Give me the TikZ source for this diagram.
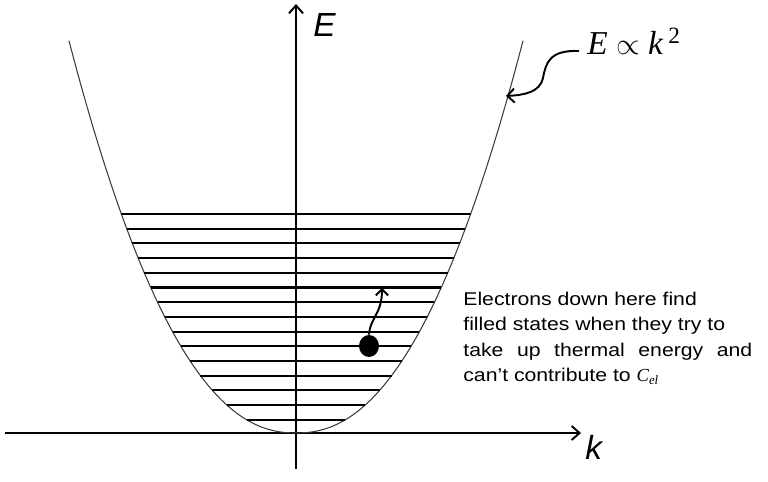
\documentclass[tikz,border=0pt]{standalone}
\usepackage{fontspec}
\usepackage{xcolor}
\setmainfont{Liberation Sans}
\newfontfamily\notefont[FakeStretch=1.15]{Liberation Sans}
\newfontfamily\timesfont{Liberation Serif}
\usetikzlibrary{
    shapes.geometric,
    arrows.meta,
    positioning,
    calc
}
\definecolor{ink}{HTML}{000000}
\definecolor{bandgray}{HTML}{3A3A3A}
\tikzset{
    % Axis style
    axis/.style={
        -{Straight Barb[length=4.5pt, width=8pt]},
        line width=1.1pt,
        draw=ink
    },
    % Filled energy level style
    level/.style={
        line width=1.15pt,
        draw=ink
    },
    % Dispersion curve style
    band/.style={
        line width=0.6pt,
        draw=bandgray
    },
    % Curly pointer style
    pointer/.style={
        -{Straight Barb[length=#1, width=2*#1]},
        line width=1.1pt,
        draw=ink
    },
    pointer/.default=4pt,
    % Axis label style
    axis label/.style={
        font=\fontsize{19}{22}\selectfont\itshape,
        text=ink,
        inner sep=0pt,
        anchor=base west
    },
    % Note text style
    note text/.style={
        font=\notefont\fontsize{10.5}{14.35}\selectfont,
        text=ink,
        align=left,
        inner sep=0pt,
        anchor=north west
    }
}

\begin{document}
\begin{tikzpicture}[x=0.02cm, y=-0.02cm]
    \useasboundingbox (0,0) rectangle (768,482);

    % Axes
    \coordinate (kstart) at (5,433);
    \coordinate (kend) at (581,433);
    \coordinate (Estart) at (296,469);
    \coordinate (Eend) at (296,4);
    \draw[axis] (kstart) -- (kend);
    \draw[axis] (Estart) -- (Eend);
    \node[axis label] (Elabel) at (313,37) {E};
    \node[axis label] (klabel) at (585,460) {k};

    % Band E(k)
    \draw[band] plot[domain=-227:227, samples=120, smooth]
        ({296+\x}, {433-((abs(\x)+0.01)/15.45)^(1/0.45)});

    % Filled states
    \foreach \lev in {0,...,14} {
        \pgfmathsetmacro\ylev{214+\lev*14.7}
        \pgfmathsetmacro\half{15.45*(433-\ylev)^0.45}
        \draw[level] ({296-\half},\ylev) -- ({296+\half},\ylev);
    }

    % Dispersion law
    \node[inner sep=0pt, anchor=base west, font=\timesfont\fontsize{19}{22}\selectfont] (law) at (587,55)
        {\itshape E \upshape$\propto$ \itshape k\,\textsuperscript{\upshape 2}};
    \coordinate (hit) at (506,96);
    \draw[pointer] ($(law.base west)+(-8,-4)$) .. controls (550,50) and (546,62) .. (543,78)
        .. controls (540,92) and (525,95) .. (hit);

    % Electron
    \node[ellipse, fill=ink, minimum width=0.4cm, minimum height=0.44cm, inner sep=0pt] (electron) at (369,346) {};
    \coordinate (hop) at (382,288);
    \draw[pointer=3.5pt] (electron.north) .. controls (370,318) and (382,314) .. (hop);

    % Note
    \node[note text] (note) at (463,292) {Electrons down here find\\
        filled states when they try to\\
        \makebox[5.78cm][s]{take up thermal energy and}\\
        can’t contribute to {\timesfont\itshape C}\textsubscript{\timesfont\itshape el}};

\end{tikzpicture}
\end{document}
